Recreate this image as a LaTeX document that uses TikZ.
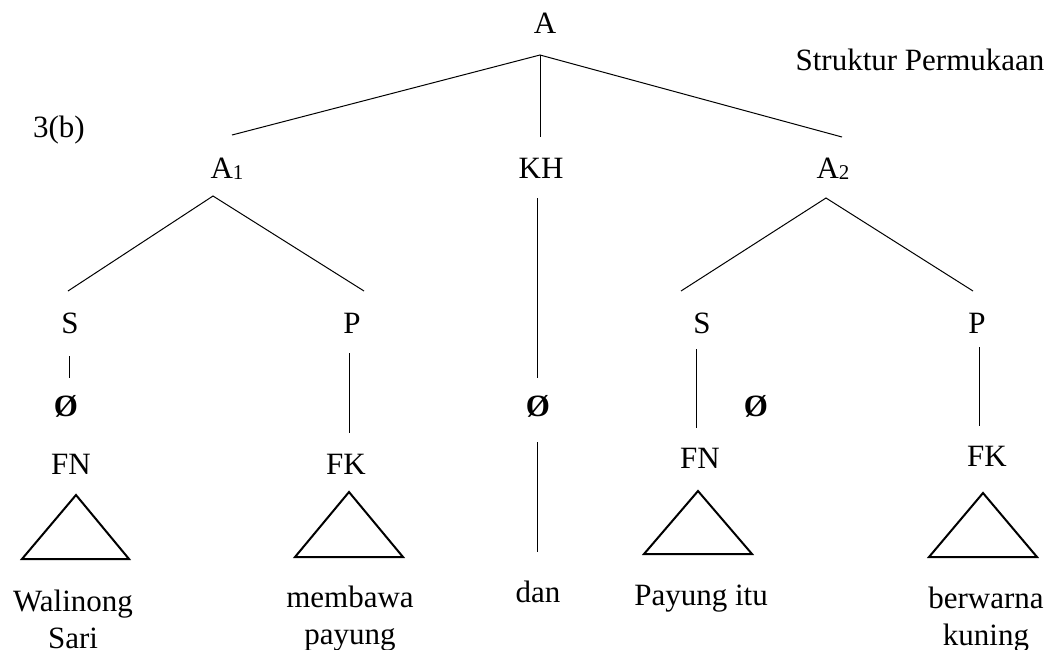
\documentclass[tikz,border=0pt]{standalone}
\usepackage{fontspec}
\setmainfont{Liberation Serif}
\begin{document}
\begin{tikzpicture}[x=1pt,y=-1pt,
  lbl/.style={anchor=base,inner sep=0pt,font=\fontsize{31}{37}\selectfont},
  two/.style={lbl,align=center},
  zero/.style={lbl,font=\fontsize{31}{37}\selectfont\bfseries},
  br/.style={line width=1pt},
  tri/.style={line width=2pt,line join=miter}]
\newcommand{\smallsub}[1]{\raisebox{-1pt}{\fontsize{21}{21}\selectfont #1}}
\useasboundingbox (0,0) rectangle (1058,649);
% labels
\node[lbl] (A) at (545,33) {A};
\node[lbl] (sp) at (920,70) {Struktur Permukaan};
\node[lbl] (num) at (59,137) {3(b)};
\node[lbl] (A1) at (227,178) {A\smallsub{1}};
\node[lbl] (KH) at (541,178) {KH};
\node[lbl] (A2) at (833,178) {A\smallsub{2}};
\node[lbl] (S1) at (70,333) {S};
\node[lbl] (P1) at (352,333) {P};
\node[lbl] (S2) at (702,333) {S};
\node[lbl] (P2) at (977,333) {P};
\node[zero] (Z1) at (66,416) {Ø};
\node[zero] (Z2) at (538,416) {Ø};
\node[zero] (Z3) at (756,416) {Ø};
\node[lbl] (FN1) at (71,474) {FN};
\node[lbl] (FK1) at (346,474) {FK};
\node[lbl] (FN2) at (700,468) {FN};
\node[lbl] (FK2) at (987,466) {FK};
\node[two] (W1) at (73,648) {Walinong\\Sari};
\node[two] (W2) at (350,644) {membawa\\payung};
\node[lbl] (W3) at (538,602) {dan};
\node[lbl] (W4) at (701,605) {Payung itu};
\node[two] (W5) at (986,645) {berwarna\\kuning};
% branch points
\coordinate (Ab) at (540,55);
\coordinate (A1t) at (232,135);
\coordinate (KHt) at (540,137);
\coordinate (A2t) at (842,137);
\coordinate (A1b) at (213,196);
\coordinate (S1t) at (68,291);
\coordinate (P1t) at (364,291);
\coordinate (A2b) at (826,198);
\coordinate (S2t) at (681,291);
\coordinate (P2t) at (973,291);
\coordinate (KHb) at (537,198);
\coordinate (Z2t) at (537,378);
\coordinate (Z2b) at (537,442);
\coordinate (W3t) at (537,552);
\coordinate (S1b) at (69,356);
\coordinate (Z1t) at (69,378);
\coordinate (P1b) at (349,353);
\coordinate (FK1t) at (349,433);
\coordinate (S2b) at (696,349);
\coordinate (FN2t) at (696,428);
\coordinate (P2b) at (979,347);
\coordinate (FK2t) at (979,426);
% branches
\draw[br] (A1t) -- (Ab) -- (A2t);
\draw[br] (Ab) -- (KHt);
\draw[br] (S1t) -- (A1b) -- (P1t);
\draw[br] (S2t) -- (A2b) -- (P2t);
\draw[br] (KHb) -- (Z2t);
\draw[br] (Z2b) -- (W3t);
\draw[br] (S1b) -- (Z1t);
\draw[br] (P1b) -- (FK1t);
\draw[br] (S2b) -- (FN2t);
\draw[br] (P2b) -- (FK2t);
% triangles
\draw[tri] (76,495) -- (129,559) -- (22,559) -- cycle;
\draw[tri] (349,492) -- (403,557) -- (295,557) -- cycle;
\draw[tri] (698,491) -- (752,554) -- (644,554) -- cycle;
\draw[tri] (983,493) -- (1037,557) -- (929,557) -- cycle;
\end{tikzpicture}
\end{document}
